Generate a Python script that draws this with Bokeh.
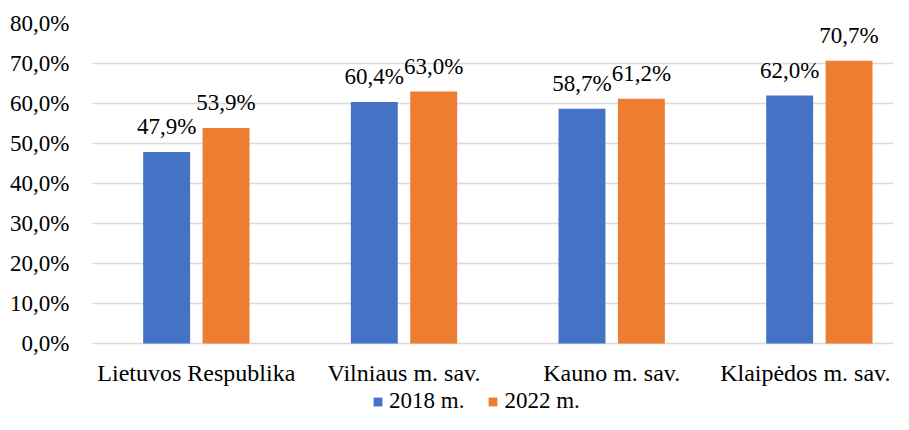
from bokeh.plotting import figure
from bokeh.models import (ColumnDataSource, Range1d, FixedTicker, LabelSet,
                          Legend, LegendItem)
from bokeh.embed import file_html
from bokeh.resources import INLINE

# ---- data ----
categories = ["Lietuvos Respublika", "Vilniaus m. sav.", "Kauno m. sav.", "Klaipėdos m. sav."]
series_names = ["2018 m.", "2022 m."]
values_2018 = [47.9, 60.4, 58.7, 62.0]
values_2022 = [53.9, 63.0, 61.2, 70.7]
y_ticks = [0, 10, 20, 30, 40, 50, 60, 70, 80]
y_tick_labels = ["0,0%", "10,0%", "20,0%", "30,0%", "40,0%", "50,0%", "60,0%", "70,0%", "80,0%"]

BLUE = "#4472C4"
ORANGE = "#ED7D31"
FONT = "Liberation Serif"
FS = "23px"

centers = [i + 0.5 for i in range(len(categories))]
offset = 0.143
bar_w = 0.226

def fmt(v):
    return f"{v:.1f}".replace(".", ",") + "%"

src18 = ColumnDataSource(dict(x=[c - offset for c in centers], top=values_2018,
                              label=[fmt(v) for v in values_2018]))
src22 = ColumnDataSource(dict(x=[c + offset for c in centers], top=values_2022,
                              label=[fmt(v) for v in values_2022]))
# first categories centred; the last one is nudged left so it stays inside the canvas
src_cat = ColumnDataSource(dict(x=centers[:-1], y=[0] * (len(categories) - 1), name=categories[:-1]))
src_last = ColumnDataSource(dict(x=centers[-1:], y=[0], name=categories[-1:]))

# frame extends below the zero line so that category labels and legend fit inside it
p = figure(width=893, height=414, output_backend="svg", toolbar_location=None,
           x_range=Range1d(0, 3.857), y_range=Range1d(-17.75, 80),
           min_border_left=92, min_border_right=0, min_border_top=23, min_border_bottom=0)

r18 = p.vbar(x="x", top="top", bottom=0, width=bar_w, source=src18, fill_color=BLUE, line_color=None)
r22 = p.vbar(x="x", top="top", bottom=0, width=bar_w, source=src22, fill_color=ORANGE, line_color=None)

for src in (src18, src22):
    p.add_layout(LabelSet(x="x", y="top", text="label", source=src, y_offset=18,
                          text_align="center", text_baseline="alphabetic",
                          text_font=FONT, text_font_size=FS, text_color="#000000"))

# category labels
for src, dx in ((src_cat, 0), (src_last, -14)):
    p.add_layout(LabelSet(x="x", y="y", text="name", source=src, y_offset=-37, x_offset=dx,
                          text_align="center", text_baseline="alphabetic",
                          text_font=FONT, text_font_size="24px", text_color="#000000"))

# axes
p.xaxis.visible = False
p.yaxis.ticker = FixedTicker(ticks=y_ticks)
p.yaxis.major_label_overrides = {t: l for t, l in zip(y_ticks, y_tick_labels)}
p.yaxis.axis_line_color = None
p.yaxis.major_tick_line_color = None
p.yaxis.minor_tick_line_color = None
p.yaxis.major_tick_out = 0
p.yaxis.major_tick_in = 0
p.yaxis.major_label_text_font = FONT
p.yaxis.major_label_text_color = "#000000"
p.yaxis.major_label_text_font_size = FS
p.yaxis.major_label_standoff = 23

p.xgrid.grid_line_color = None
p.ygrid.ticker = FixedTicker(ticks=y_ticks)
p.ygrid.grid_line_color = "#D9D9D9"
p.ygrid.grid_line_width = 1.5
p.outline_line_color = None

legend = Legend(items=[LegendItem(label=series_names[0], renderers=[r18]),
                       LegendItem(label=series_names[1], renderers=[r22])],
                orientation="horizontal", location=(280, 0),
                glyph_width=11, glyph_height=11, label_standoff=6, spacing=23,
                padding=0, margin=0, border_line_color=None, background_fill_alpha=0,
                label_text_font=FONT, label_text_font_size=FS, label_text_color="#000000")
p.add_layout(legend)

open("out.html", "w").write(file_html(p, INLINE))
